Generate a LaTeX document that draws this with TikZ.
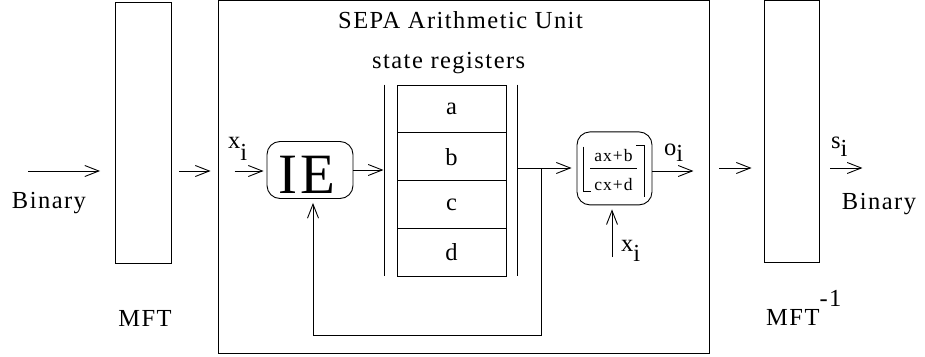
\documentclass[tikz,border=0pt]{standalone}
\usepackage{fontspec}
\setmainfont{Liberation Serif}[LetterSpace=6]
\usetikzlibrary{arrows.meta}

\begin{document}
\begin{tikzpicture}[x=1pt,y=-1pt]
	\tikzstyle{every node}=[font=\fontsize{24.5}{28}\selectfont,inner sep=0pt]
	\tikzstyle{block}=[draw,rectangle,line width=0.9pt]
	\tikzstyle{round block}=[block,rounded corners=13pt]
	\tikzstyle{reg}=[block,minimum width=109pt,minimum height=47.75pt]
	\tikzstyle{lbl}=[anchor=base]
	\tikzstyle{sub}=[anchor=base west]
	\tikzstyle{wire}=[line width=0.9pt]
	\tikzstyle{arr}=[wire,-{Straight Barb[length=14pt,width=11pt]}]
	\useasboundingbox (0,0) rectangle (925,356);
	
	% blocks
	\node[block,minimum width=55.5pt,minimum height=261pt] (mft) at (143.25,132.5) {};
	\node[block,minimum width=490.5pt,minimum height=352.5pt] (unit) at (463.75,176.75) {};
	\node[block,minimum width=55pt,minimum height=261.5pt] (mftinv) at (791.5,131.25) {};
	\node[round block,minimum width=86pt,minimum height=57pt] (ie) at (310,170) {};
	\node[lbl,font=\fontsize{57}{57}\selectfont] (ietxt) at (307,193.3) {IE};
	\foreach \r [count=\k] in {a,b,c,d}
		\node[reg] (reg-\r) at (451.5,85+47.75*\k-23.875) {\r};
	\node[round block,minimum width=75pt,minimum height=73pt] (frac) at (614.5,168.4) {};
	\node[lbl,font=\fontsize{17.5}{18}\selectfont] (num) at (613.5,161.7) {ax+b};
	\node[lbl,font=\fontsize{17.5}{18}\selectfont] (den) at (613.5,190) {cx+d};
	\draw[wire] (590,168.3) -- (637,168.3);
	\draw[wire] (583.3,146.5) -- (583.3,191.7) -- (590.5,191.7);
	\draw[wire] (636,145.7) -- (644,145.7) -- (644,196.5);
	\draw[wire] ([xshift=-12pt]reg-a.north west) -- ([xshift=-12pt]reg-d.south west);
	\draw[wire] ([xshift=11pt]reg-a.north east) -- ([xshift=11pt]reg-d.south east);
	
	% labels
	\node[lbl] (title) at (460.5,28.3) {SEPA Arithmetic Unit};
	\node[lbl] (stl) at (448.7,68) {state registers};
	\node[lbl] (bin1) at (49,208.5) {Binary};
	\node[lbl] (bin2) at (879,209) {Binary};
	\node[lbl] (mftl) at (145,326.5) {MFT};
	\node[sub] (mftinvl) at (766,325.7) {MFT\raisebox{19pt}{-1}};
	\node[sub] (xin) at (228,148.3) {x\raisebox{-12pt}{i}};
	\node[sub] (oi) at (664,155) {o\raisebox{-6pt}{i}};
	\node[sub] (xbl) at (621,251.7) {x\raisebox{-10pt}{i}};
	\node[sub] (si) at (831,148.3) {s\raisebox{-8pt}{i}};
	
	% connectors
	\coordinate (in1) at (28,171);
	\coordinate (jn) at (541,168);
	\coordinate (fb) at (313,335);
	\coordinate (xb) at (612,257);
	\draw[arr] (in1) -- ([xshift=-15pt]mft.west |- in1);
	\draw[arr] ([xshift=8pt]mft.east |- in1) -- ([xshift=-7.5pt]unit.west |- in1);
	\draw[arr] ([xshift=16.5pt]unit.west |- in1) -- ([xshift=-3pt]ie.west |- in1);
	\draw[arr] (ie.east) -- ++(30,0);
	\draw[wire] ([xshift=11pt]reg-b.east |- jn) -- (jn);
	\draw[arr] (jn) -- ([xshift=-5pt]frac.west |- jn);
	\draw[arr] (jn) |- (fb) -- ([yshift=-4pt]fb |- ie.south);
	\draw[arr] (frac.east |- in1) -- ([xshift=-16pt]unit.east |- in1);
	\draw[arr] (xb) -- ([yshift=-4pt]xb |- frac.south);
	\draw[arr] ([xshift=10pt]unit.east |- jn) -- ([xshift=-12pt]mftinv.west |- jn);
	\draw[arr] ([xshift=11pt]mftinv.east |- jn) -- ++(32,0);
\end{tikzpicture}
\end{document}
